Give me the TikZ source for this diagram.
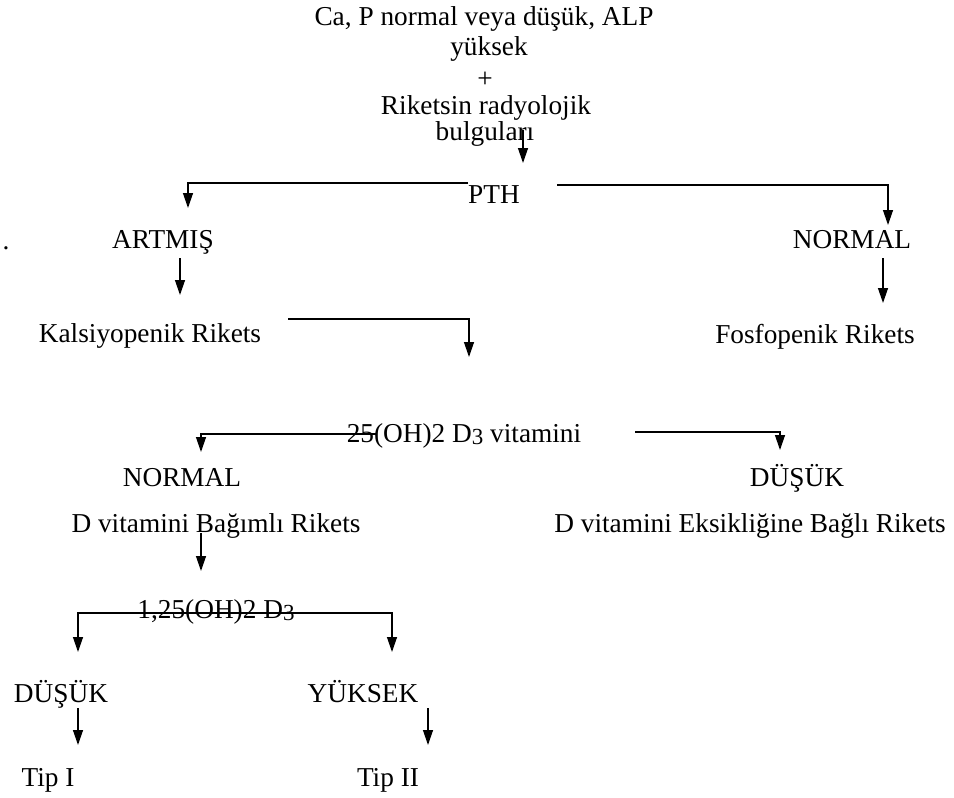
\documentclass[tikz,border=0pt]{standalone}
\usepackage{fontspec}
\setmainfont{Liberation Serif}
\usetikzlibrary{arrows.meta}
\newcommand{\dsub}[1]{\raisebox{-2.5pt}{\fontsize{23}{23}\selectfont #1}}
\begin{document}
\begin{tikzpicture}[x=1pt,y=-1pt,
    lbl/.style={anchor=base,inner sep=0pt,font=\fontsize{27.3}{30}\selectfont},
    arr/.style={line width=1.3pt,-{Triangle[width=10pt,length=15pt]}},
    dbl/.style={line width=1.3pt,{Triangle[width=10pt,length=15pt]}-{Triangle[width=10pt,length=15pt]}}]
    \useasboundingbox (0,0) rectangle (954,798);
    \node [lbl] (top1) at (484,25) {Ca, P normal veya düşük, ALP};
    \node [lbl] (top2) at (489,55) {yüksek};
    \node [lbl] (plus) at (485,87) {+};
    \node [lbl] (top3) at (486,114) {Riketsin radyolojik};
    \node [lbl] (top4) at (485,140) {bulguları};
    \node [lbl] (pth) at (494,203) {PTH};
    \node [lbl] (dot) at (6,249) {.};
    \node [lbl] (artmis) at (163,248) {ARTMIŞ};
    \node [lbl] (norm1) at (852,248) {NORMAL};
    \node [lbl] (kalsi) at (150,342) {Kalsiyopenik Rikets};
    \node [lbl] (fosfo) at (815,343) {Fosfopenik Rikets};
    \node [lbl] (vitd) at (464,442) {25(OH)2 D\dsub{3} vitamini};
    \node [lbl] (norm2) at (182,486) {NORMAL};
    \node [lbl] (dusuk1) at (797,486) {DÜŞÜK};
    \node [lbl] (bagimli) at (216,532) {D vitamini Bağımlı Rikets};
    \node [lbl] (eksik) at (750,532) {D vitamini Eksikliğine Bağlı Rikets};
    \node [lbl] (calc) at (216,618) {1,25(OH)2 D\dsub{3}};
    \node [lbl] (dusuk2) at (61,702) {DÜŞÜK};
    \node [lbl] (yuksek) at (363,702) {YÜKSEK};
    \node [lbl] (tip1) at (48,786) {Tip I};
    \node [lbl] (tip2) at (388,786) {Tip II};
    \coordinate (p1) at (523,130);
    \coordinate (q1) at (523,163);
    \coordinate (p2) at (468,183);
    \coordinate (q2) at (188,208);
    \coordinate (p3) at (557,185);
    \coordinate (q3) at (888,225);
    \coordinate (p4) at (180,258);
    \coordinate (q4) at (180,295);
    \coordinate (p5) at (883,258);
    \coordinate (q5) at (883,303);
    \coordinate (p6) at (288,319);
    \coordinate (q6) at (469,357);
    \coordinate (p7) at (377,434);
    \coordinate (q7) at (201,452);
    \coordinate (p8) at (635,432);
    \coordinate (q8) at (780,450);
    \coordinate (p9) at (201,533);
    \coordinate (q9) at (201,571);
    \coordinate (t10) at (78,613);
    \coordinate (p10) at (78,652);
    \coordinate (q10) at (392,652);
    \coordinate (p11) at (78,708);
    \coordinate (q11) at (78,745);
    \coordinate (p12) at (428,708);
    \coordinate (q12) at (428,745);
    \draw [arr] (p1) -- (q1);
    \draw [arr] (p2) -| (q2);
    \draw [arr] (p3) -| (q3);
    \draw [arr] (p4) -- (q4);
    \draw [arr] (p5) -- (q5);
    \draw [arr] (p6) -| (q6);
    \draw [arr] (p7) -| (q7);
    \draw [arr] (p8) -| (q8);
    \draw [arr] (p9) -- (q9);
    \draw [dbl] (p10) -- (t10) -| (q10);
    \draw [arr] (p11) -- (q11);
    \draw [arr] (p12) -- (q12);
\end{tikzpicture}
\end{document}
